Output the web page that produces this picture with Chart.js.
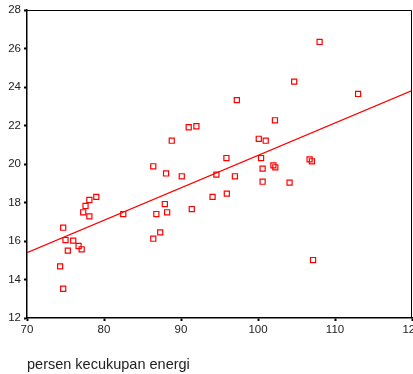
<!DOCTYPE html>
<html>
<head>
<meta charset="utf-8">
<script src="https://cdn.jsdelivr.net/npm/chart.js@4"></script>
<style>
  html, body { margin: 0; padding: 0; background: #fff; }
  #wrap { width: 413px; height: 374px; }
</style>
</head>
<body>
<div id="wrap"><canvas id="chart" width="413" height="374"></canvas></div>
<script>
// persen kecukupan energi (x) vs nilai (y)
const energyPct = [74.7, 75.0, 76.0, 76.7, 77.1, 75.3, 74.3, 74.7, 77.3, 77.6, 78.1, 79.0, 78.1, 82.5,
    97.25, 102.2, 91.0, 92.0, 88.8, 100.1, 101.0, 95.9, 100.4, 86.4, 100.6, 102.0, 102.25, 88.06,
    90.1, 94.6, 97.0, 100.6, 95.95, 94.1, 87.9, 86.8, 88.2, 91.4, 87.3, 86.4, 108.0, 104.7, 113.0,
    106.7, 107.0, 104.1, 107.15];
const values = [16.69, 16.05, 16.02, 15.74, 15.57, 15.5, 14.68, 13.52, 17.49, 17.82, 18.13, 18.29, 17.28, 17.4,
    23.32, 22.27, 21.91, 21.96, 21.21, 21.31, 21.21, 20.31, 20.31, 19.88, 19.76, 19.93, 19.83, 19.51,
    19.36, 19.45, 19.36, 19.08, 18.46, 18.29, 17.92, 17.4, 17.49, 17.66, 16.45, 16.12, 26.34, 24.28, 23.64,
    20.24, 20.14, 19.03, 15.01];

// fitted line, end points
const fitX = [70, 120];
const fitY = [15.39, 23.81];

const xTicks = [70, 80, 90, 100, 110, 120];
const yTicks = [12, 14, 16, 18, 20, 22, 24, 26, 28];

const points = energyPct.map((x, i) => ({ x: x, y: values[i] }));
const fitPoints = fitX.map((x, i) => ({ x: x, y: fitY[i] }));

// top and right edges of the frame
const frameBox = {
    id: 'frameBox',
    afterDraw(chart) {
        const a = chart.chartArea;
        const ctx = chart.ctx;
        ctx.save();
        ctx.strokeStyle = '#000';
        ctx.lineWidth = 1;
        ctx.beginPath();
        ctx.moveTo(a.left, a.top + 0.5);
        ctx.lineTo(a.right - 0.5, a.top + 0.5);
        ctx.lineTo(a.right - 0.5, a.bottom);
        ctx.stroke();
        ctx.restore();
    }
};

Chart.defaults.font.family = '"Liberation Sans", Arial, sans-serif';
Chart.defaults.color = '#222';

const ctx = document.getElementById('chart').getContext('2d');
new Chart(ctx, {
    type: 'scatter',
    data: {
        datasets: [{
            data: points,
            pointStyle: 'rect',
            pointRadius: 3.6,
            pointBorderWidth: 1.2,
            pointBorderColor: '#ff0000',
            pointBackgroundColor: 'rgba(255,255,255,0)',
            showLine: false
        }, {
            type: 'line',
            data: fitPoints,
            borderColor: '#ff0000',
            borderWidth: 1.2,
            pointRadius: 0,
            fill: false
        }]
    },
    options: {
        responsive: false,
        animation: false,
        layout: { autoPadding: false, padding: { top: 10, right: 1, bottom: 0, left: 0 } },
        plugins: {
            legend: { display: false },
            tooltip: { enabled: false }
        },
        scales: {
            x: {
                type: 'linear',
                min: 70,
                max: 120,
                afterBuildTicks: s => { s.ticks = xTicks.map(v => ({ value: v })); },
                afterFit: s => { s.height = 56; s.paddingLeft = 0; s.paddingRight = 0; },
                grid: { drawOnChartArea: false, drawTicks: true, tickLength: 3, tickWidth: 2, tickColor: '#000' },
                border: { color: '#000', width: 1.5 },
                ticks: { font: { size: 11.5 }, padding: 2, maxRotation: 0, autoSkip: false, color: '#222' },
                title: {
                    display: true,
                    text: 'persen kecukupan energi',
                    align: 'start',
                    font: { size: 14.5 },
                    color: '#222',
                    padding: { top: 0, bottom: 0 }
                }
            },
            y: {
                type: 'linear',
                min: 12,
                max: 28,
                afterBuildTicks: s => { s.ticks = yTicks.map(v => ({ value: v })); },
                afterFit: s => { s.width = 27; },
                grid: { drawOnChartArea: false, drawTicks: true, tickLength: 3, tickWidth: 2, tickColor: '#000' },
                border: { color: '#000', width: 1.5 },
                ticks: { font: { size: 11.5 }, padding: 3, color: '#222' }
            }
        }
    },
    plugins: [frameBox]
});
</script>
</body>
</html>
